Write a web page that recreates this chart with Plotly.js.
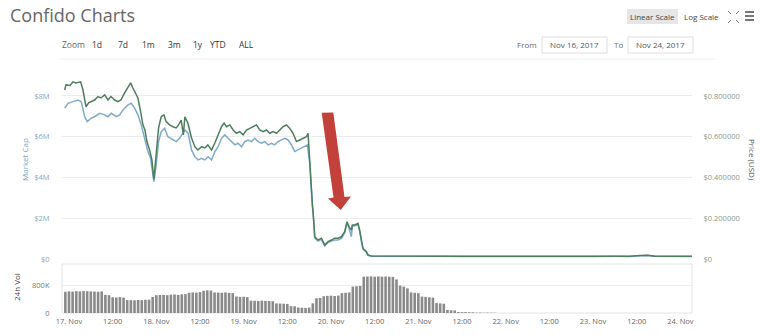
<!DOCTYPE html>
<html><head><meta charset="utf-8">
<script src="https://cdn.plot.ly/plotly-3.0.1.min.js"></script>
<style>html,body{margin:0;padding:0;background:#fff}#chart{width:762px;height:335px}</style>
</head><body><div id="chart"></div>
<script>
// ---- Data (hours since 17 Nov 2017 00:00) ----
const priceHours = [-1.18,-0.82,0.27,1.10,1.92,3.21,3.84,4.67,5.41,6.04,7.05,7.96,8.78,9.80,10.71,11.53,12.54,13.45,14.27,15.29,16.20,16.94,17.57,18.12,18.94,19.68,20.31,20.86,21.41,22.15,22.78,23.33,23.69,24.24,24.62,25.34,26.08,26.71,27.64,28.55,29.45,30.11,30.83,31.43,31.84,32.67,33.68,34.59,35.41,36.43,37.33,38.16,39.17,40.08,40.90,41.92,42.63,43.29,44.19,45.10,46.03,46.94,47.85,48.78,49.68,50.59,51.52,52.43,53.33,54.27,55.18,56.08,57.01,57.92,58.83,59.76,60.66,61.57,62.50,63.41,64.32,65.25,65.69,66.15,66.62,66.90,67.10,67.53,68.43,69.37,70.27,71.18,72.11,73.02,73.92,74.86,75.76,76.39,76.94,77.60,77.87,78.51,79.41,79.88,80.35,80.78,81.72,82.16,83.09,86,90,96,102,108,114,120,126,132,138,144,150,154,157,159,161,164,168,171.3];
const priceUSD = [0.829,0.854,0.851,0.869,0.864,0.869,0.829,0.747,0.766,0.772,0.780,0.797,0.790,0.805,0.780,0.797,0.780,0.772,0.780,0.815,0.846,0.864,0.839,0.821,0.790,0.723,0.658,0.633,0.576,0.535,0.486,0.390,0.461,0.545,0.643,0.698,0.707,0.674,0.658,0.649,0.643,0.658,0.682,0.609,0.698,0.667,0.594,0.551,0.535,0.551,0.545,0.560,0.535,0.569,0.609,0.649,0.667,0.649,0.658,0.633,0.617,0.625,0.609,0.633,0.641,0.649,0.658,0.633,0.625,0.633,0.617,0.625,0.617,0.633,0.649,0.658,0.641,0.617,0.576,0.584,0.592,0.600,0.617,0.471,0.290,0.265,0.226,0.109,0.093,0.102,0.069,0.085,0.093,0.102,0.102,0.109,0.134,0.183,0.159,0.142,0.167,0.167,0.175,0.142,0.093,0.053,0.036,0.020,0.0147,0.014,0.0135,0.013,0.0135,0.013,0.0125,0.013,0.0135,0.013,0.0125,0.013,0.0135,0.013,0.017,0.018,0.0135,0.013,0.0135,0.013];

const capHours = [-1.18,-0.27,1.10,2.47,3.38,4.31,5.02,6.12,7.05,8.43,9.80,10.71,11.61,12.98,13.92,14.82,16.20,17.10,18.03,18.94,19.85,20.78,21.69,22.43,23.06,23.33,23.96,24.62,25.34,26.27,27.18,28.55,29.45,30.39,31.57,31.84,32.75,33.68,34.59,35.49,36.43,37.33,38.24,39.17,40.08,40.98,41.92,42.82,43.73,44.66,45.57,46.47,47.41,48.31,49.22,50.15,51.06,51.96,52.90,53.80,54.71,55.64,56.55,57.45,58.39,59.29,60.20,61.13,62.04,62.94,63.88,64.78,65.52,66.15,66.62,66.90,67.10,67.53,68.43,69.37,70.27,71.18,72.11,73.02,73.92,74.86,75.76,76.39,76.94,77.60,77.87,78.51,79.41,79.88,80.35,80.78,81.72,82.16,83.09,86,90,96,102,108,114,120,126,132,138,144,150,154,157,159,161,164,168,171.3];
const capMillions = [7.40,7.64,7.72,7.80,7.72,6.98,6.74,6.91,6.98,7.15,7.07,6.98,7.15,6.98,7.07,7.31,7.56,7.64,7.40,7.07,6.58,5.92,5.27,4.94,4.28,3.79,4.61,5.76,6.25,6.41,6.00,5.84,5.76,5.92,6.25,6.33,6.17,5.35,5.02,4.86,4.94,4.86,5.02,4.86,5.27,5.51,5.92,6.09,5.92,5.76,5.60,5.68,5.51,5.76,5.84,5.76,5.92,5.76,5.68,5.76,5.60,5.68,5.60,5.76,5.84,5.92,5.84,5.60,5.27,5.35,5.43,5.51,5.60,4.71,2.85,2.55,2.21,1.03,0.88,0.96,0.64,0.81,0.88,0.93,0.93,1.01,1.28,1.77,1.52,1.09,1.62,1.62,1.69,1.37,0.88,0.49,0.34,0.18,0.13,0.135,0.13,0.125,0.13,0.125,0.12,0.125,0.13,0.125,0.12,0.125,0.13,0.125,0.16,0.17,0.13,0.125,0.13,0.125];

const volStartHour = -1; // hourly bars
const volumeK = [620,630,625,635,630,640,635,630,625,620,630, 530,520, 460,455,465,450, 380,375,370,380,375,385,390, 470, 520,525,530,520,535,540,530,545,550, 590,600,595,610, 650,660,655, 600,595,590,600,585,580, 480,470,475,465, 360,355,350,360,355,350,345, 280,275,270,265, 200,195, 160,155,150,158, 280, 430,440, 490,500,505,495,510, 580,590,600, 770,780,790, 1060,1065,1070,1060,1068,1062,1065,1060,1055, 980, 800,770,720, 600,590,580, 480,470,460,450, 290,280,270, 90,80,75, 30,25,28,22,20, 10,12,8,10,9,7];

const xTickHours = [0,12,24,36,48,60,72,84,96,108,120,132,144,156,168];
const xTickText = ["17. Nov","12:00","18. Nov","12:00","19. Nov","12:00","20. Nov","12:00","21. Nov","12:00","22. Nov","12:00","23. Nov","12:00","24. Nov"];
const capTicks = [0,2e6,4e6,6e6,8e6];
const capTickText = ["$0","$2M","$4M","$6M","$8M"];
const priceTicks = [0,0.2,0.4,0.6,0.8];
const priceTickText = ["$0","$0.200000","$0.400000","$0.600000","$0.800000"];
const volTicks = [0,800000];
const volTickText = ["0","800K"];
const zoomButtons = ["1d","7d","1m","3m","1y","YTD","ALL"];

// ---- helpers ----
function toDate(h){
  const d = new Date(Date.UTC(2017,10,17,0,0,0) + Math.round(h*3600000));
  return d.toISOString().slice(0,19).replace('T',' ');
}
const L=62,R=692,T=78,B=313,W=R-L,H=B-T;
const px = x => (x-L)/W, py = y => (B-y)/H;
const FONT = 'Open Sans, Liberation Sans, sans-serif';

const volHours = volumeK.map((v,i)=>volStartHour+i);

const traces = [
  {x: capHours.map(toDate), y: capMillions.map(v=>v*1e6), type:'scatter', mode:'lines', yaxis:'y', xaxis:'x',
   line:{color:'#7eaacb', width:1.5}, name:'Market Cap'},
  {x: priceHours.map(toDate), y: priceUSD, type:'scatter', mode:'lines', yaxis:'y2', xaxis:'x',
   line:{color:'#4c7d5c', width:1.5}, name:'Price'},
  {x: volHours.map(toDate), y: volumeK.map(v=>v*1000), type:'bar', yaxis:'y3', xaxis:'x',
   width: 0.72*3600000, marker:{color:'#8a8a8a', line:{width:0}}, name:'24h Vol'}
];

const mainDom = [py(259), 1];
const volDom = [0, py(264)];

const annotations = [
  {text:'Confido Charts', x:px(8), y:py(15), xanchor:'left', yanchor:'middle', font:{size:18, color:'#666', family:FONT}},
  {text:'Zoom', x:px(73), y:py(44), xanchor:'center', font:{size:8.5, color:'#666', family:FONT}},
  {text:'Linear Scale', x:px(652), y:py(16.5), xanchor:'center', font:{size:8, color:'#444', family:FONT}},
  {text:'Log Scale', x:px(701), y:py(16.5), xanchor:'center', font:{size:8, color:'#444', family:FONT}},
  {text:'From', x:px(527), y:py(44), xanchor:'center', font:{size:8, color:'#666', family:FONT}},
  {text:'Nov 16, 2017', x:px(574.5), y:py(44.5), xanchor:'center', font:{size:8, color:'#555', family:FONT}},
  {text:'To', x:px(618), y:py(44), xanchor:'center', font:{size:8, color:'#666', family:FONT}},
  {text:'Nov 24, 2017', x:px(660.5), y:py(44.5), xanchor:'center', font:{size:8, color:'#555', family:FONT}},
  {text:'Market Cap', x:px(24), y:py(160), textangle:-90, xanchor:'center', font:{size:8, color:'#7aa3c4', family:FONT}},
  {text:'Price (USD)', x:px(753), y:py(160), textangle:90, xanchor:'center', font:{size:8, color:'#555', family:FONT}},
  {text:'24h Vol', x:px(16), y:py(287), textangle:-90, xanchor:'center', font:{size:8, color:'#444', family:FONT}}
];
const zoomX = [97,123,148,174,198,218,246];
zoomButtons.forEach((t,i)=>annotations.push({text:t, x:px(zoomX[i]), y:py(44), xanchor:'center', font:{size:8.5, color:'#333', family:FONT}}));
annotations.forEach(a=>{a.xref='paper'; a.yref='paper'; a.showarrow=false; if(!a.yanchor) a.yanchor='middle';});

function rect(x0,y0,x1,y1,fill,line){return {type:'rect',xref:'paper',yref:'paper',x0:px(x0),x1:px(x1),y0:py(y1),y1:py(y0),fillcolor:fill,line:{color:line||'rgba(0,0,0,0)',width:line?1:0},layer:'below'};}
function seg(x0,y0,x1,y1,color,w){return {type:'line',xref:'paper',yref:'paper',x0:px(x0),x1:px(x1),y0:py(y0),y1:py(y1),line:{color:color,width:w}};}
function poly(pts,color){return {type:'path',xref:'paper',yref:'paper',path:'M'+pts.map(p=>px(p[0])+','+py(p[1])).join(' L')+' Z',fillcolor:color,line:{width:0}};}

const shapes = [
  rect(627,9,678,24,'#e6e6e6'),
  rect(542,37,607,53,'#ffffff','#dddddd'),
  rect(628,37,693,53,'#ffffff','#dddddd'),
  seg(60,59,715,59,'#eeeeee',1),
  rect(62,264,692,313,'rgba(0,0,0,0)','#e4e4e4'),
  // hamburger
  seg(745,12,754,12,'#555',1.6), seg(745,16,754,16,'#555',1.6), seg(745,20,754,20,'#555',1.6),
  // expand icon
  seg(728,11,731,14,'#777',1), seg(739,11,736,14,'#777',1), seg(728,23,731,20,'#777',1), seg(739,23,736,20,'#777',1),
  // red arrow
  poly([[321.7,112.7],[333.3,112.5],[344.5,197],[351,196.5],[340.7,210],[328,198.5],[333.5,197.5]],'#c2413b')
];

const layout = {
  width:762, height:335, margin:{l:L, r:762-R, t:T, b:335-B, pad:0},
  paper_bgcolor:'#fff', plot_bgcolor:'rgba(0,0,0,0)', showlegend:false,
  font:{family:FONT},
  xaxis:{type:'date', range:[toDate(-1.92), toDate(171.2)], anchor:'y3', tickvals:xTickHours.map(toDate), ticktext:xTickText,
    showgrid:false, zeroline:false, showline:false, ticks:'outside', ticklen:1, tickcolor:'rgba(0,0,0,0)', tickfont:{size:7.5, color:'#666', family:FONT}},
  yaxis:{domain:mainDom, range:[0, 8.88e6], tickvals:capTicks, ticktext:capTickText, gridcolor:'#ececec', gridwidth:1,
    zeroline:false, ticks:'outside', ticklen:10, tickcolor:'rgba(0,0,0,0)', tickfont:{size:7.5, color:'#8aa5ba', family:FONT}},
  yaxis2:{domain:mainDom, overlaying:'y', side:'right', anchor:'x', range:[0,0.888], tickvals:priceTicks, ticktext:priceTickText,
    showgrid:false, zeroline:false, ticks:'outside', ticklen:9, tickcolor:'rgba(0,0,0,0)', tickfont:{size:7.5, color:'#8a9a8e', family:FONT}},
  yaxis3:{domain:volDom, range:[0,1.43e6], tickvals:volTicks, ticktext:volTickText, gridcolor:'#ececec',
    zeroline:false, ticks:'outside', ticklen:10, tickcolor:'rgba(0,0,0,0)', tickfont:{size:7.5, color:'#777', family:FONT}},
  bargap:0.2,
  annotations:annotations, shapes:shapes
};
Plotly.newPlot('chart', traces, layout, {staticPlot:true, displayModeBar:false});
</script></body></html>
